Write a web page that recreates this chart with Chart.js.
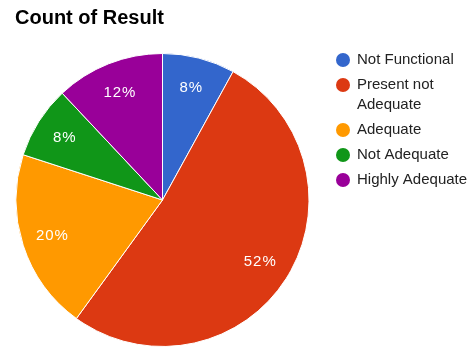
<!DOCTYPE html>
<html>
<head>
<meta charset="utf-8">
<script src="https://cdn.jsdelivr.net/npm/chart.js@4"></script>
<style>
  html, body { margin: 0; padding: 0; background: #fff; }
  #wrap { width: 472px; height: 349px; }
</style>
</head>
<body>
<div id="wrap"><canvas id="pie"></canvas></div>
<script>
// --- Data ---
const chartTitle = 'Count of Result';
const categories = ['Not Functional', 'Present not Adequate', 'Adequate', 'Not Adequate', 'Highly Adequate'];
const legendLines = [['Not Functional'], ['Present not', 'Adequate'], ['Adequate'], ['Not Adequate'], ['Highly Adequate']];
const counts = [2, 13, 5, 2, 3];
const sliceColors = ['#3366cc', '#dc3912', '#ff9900', '#109618', '#990099'];

const FONT = '"Liberation Sans", Arial, sans-serif';

// draws title, slice percentages and the legend on the canvas
const decorPlugin = {
    id: 'decor',
    afterDatasetsDraw(chart) {
        const ctx = chart.ctx;
        const total = counts.reduce((a, b) => a + b, 0);
        ctx.save();

        // percentages inside slices
        ctx.fillStyle = '#fff';
        ctx.font = '15px ' + FONT;
        ctx.letterSpacing = '1px';
        ctx.textAlign = 'center';
        ctx.textBaseline = 'middle';
        chart.getDatasetMeta(0).data.forEach((arc, i) => {
            const p = arc.getProps(['x', 'y', 'startAngle', 'endAngle', 'outerRadius'], true);
            const mid = (p.startAngle + p.endAngle) / 2;
            const r = p.outerRadius * 0.79;
            const pct = Math.round(counts[i] / total * 100) + '%';
            ctx.fillText(pct, p.x + Math.cos(mid) * r, p.y + Math.sin(mid) * r);
        });
        ctx.letterSpacing = '0px';

        // title
        ctx.fillStyle = '#000';
        ctx.font = 'bold 20px ' + FONT;
        ctx.textAlign = 'left';
        ctx.textBaseline = 'alphabetic';
        ctx.fillText(chartTitle, 15, 24);

        // legend
        ctx.font = '15px ' + FONT;
        ctx.textBaseline = 'middle';
        let y = 60;
        legendLines.forEach((lines, i) => {
            ctx.fillStyle = sliceColors[i];
            ctx.beginPath();
            ctx.arc(343, y, 7, 0, Math.PI * 2);
            ctx.fill();
            ctx.fillStyle = '#222';
            lines.forEach((line, j) => ctx.fillText(line, 357, y + j * 20));
            y += 25 + (lines.length - 1) * 20;
        });
        ctx.restore();
    }
};

new Chart(document.getElementById('pie'), {
    type: 'pie',
    data: {
        labels: categories,
        datasets: [{
            data: counts,
            backgroundColor: sliceColors,
            borderColor: '#fff',
            borderWidth: 1
        }]
    },
    options: {
        responsive: true,
        maintainAspectRatio: false,
        animation: false,
        layout: { padding: { left: 15, top: 53, right: 162, bottom: 2 } },
        plugins: {
            legend: { display: false },
            tooltip: { enabled: false }
        }
    },
    plugins: [decorPlugin]
});
</script>
</body>
</html>
